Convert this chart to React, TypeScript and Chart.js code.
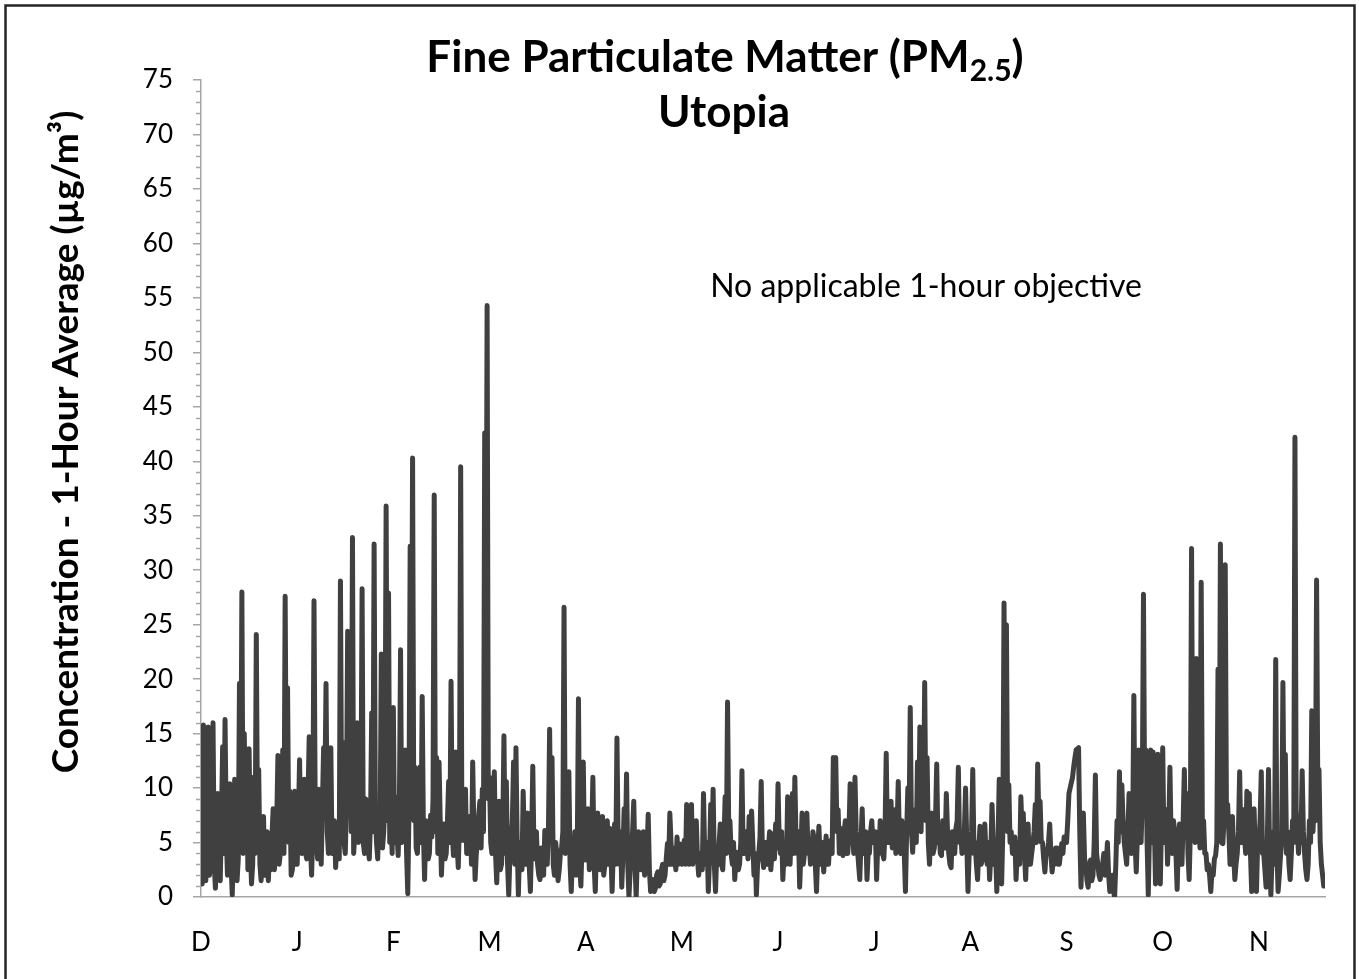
import React, { useEffect, useRef } from 'react';
import { Chart, registerables } from 'chart.js';

Chart.register(...registerables);

// Month tick labels (one label at the start of each month block)
const monthLabels = ['D', 'J', 'F', 'M', 'A', 'M', 'J', 'J', 'A', 'S', 'O', 'N'];

// PM2.5 1-hour concentrations (µg/m³), month by month
const decVals = [
  2.5, 1.2, 15.8, 4, 1.5, 6, 15.6, 2, 3, 5.5, 16, 3, 0.8, 5, 9.5, 2.5, 1.5, 7, 13.8, 4,
  16.3, 6, 2, 8, 10.4, 3, 0.2, 4.5, 10.8, 6, 1.5, 3.5, 19.6, 6, 28, 4, 15, 7, 12.4, 2.5,
  13.6, 5, 1.2, 3, 11, 4, 24.1, 6, 11.7, 3, 1.5, 4.5, 7.4, 2, 3, 6, 1.5, 4, 2.5, 5.5,
  8.1, 2.5, 3.5, 7, 13, 3, 4, 6.5, 13.5, 4, 27.6, 8, 19.2, 5, 9.7, 2, 2.5, 6, 9.7, 3,
];
const janVals = [
  3, 7, 12.6, 5, 4, 8, 10.8, 4, 3.5, 9, 14.7, 5, 2, 6, 27.2, 8, 5, 3.5, 9.9, 6,
  3, 8.5, 13.7, 9, 19.6, 6, 4, 8, 13.7, 4, 5, 7, 2.7, 5, 6, 3.5, 29, 7, 14.2, 5,
  4, 8.5, 24.4, 9, 23, 6, 33, 4, 6, 8, 16, 5, 15, 7, 28.3, 5, 4, 9, 8.8, 4.5,
  3.5, 7, 16.9, 6, 32.4, 8, 5, 3.5, 8, 6, 22.3, 4.5, 6, 9, 35.9, 7, 27.9, 5, 8, 4,
];
const febVals = [
  17.4, 5, 9.2, 6, 3.8, 8, 22.7, 5, 6, 9, 13.5, 4, 0.3, 8, 32.2, 12, 40.3, 7, 11.9, 4.5,
  4, 8, 11.9, 5, 18.4, 6, 1.6, 7, 5.2, 3.5, 4, 7.5, 5.5, 9, 36.9, 6, 12.8, 4, 12.4, 7,
  2, 5, 6.7, 3.5, 4, 7, 10.6, 5, 19.8, 6, 3.8, 8, 13.3, 5, 2.7, 7, 39.5, 6, 5.2, 8.5,
  9.9, 4, 4, 6.5, 7.4, 3, 12.4, 6, 1.6, 4, 5, 7.5, 8.8, 4.5, 9.9, 6, 42.6, 17, 54.3, 9,
];
const marVals = [
  11, 5, 4, 7, 11.5, 4, 1.3, 5, 8.8, 2.5, 3, 6, 14.8, 4, 10.6, 3, 0.2, 4, 5, 7,
  12.4, 3, 13.7, 5, 0.2, 4.5, 5, 2.5, 9.7, 5, 3, 6, 7.7, 3, 0.5, 5, 12, 4, 3.5, 6,
  3, 2, 1.6, 4.5, 3.5, 2, 6.1, 4, 3, 6, 15.4, 5, 12.8, 3, 2, 5, 4, 1.5, 2.5, 4,
  4.5, 6, 26.6, 4, 5, 7, 11.5, 3, 0.5, 4, 3, 6, 2, 4.5, 18.2, 3, 1, 5, 12.4, 4,
];
const aprVals = [
  3.4, 6, 8.1, 2.5, 4, 6, 11, 3, 0.5, 5, 7.7, 3, 2.5, 5.5, 7.4, 2, 3, 5, 7, 3,
  6.3, 4, 0.5, 4.5, 6.7, 3, 14.6, 5, 3, 6, 0.9, 4, 8.1, 5, 11.3, 3, 0, 2.5, 4, 6,
  8.8, 3, 0, 4, 6, 3.5, 2.5, 5, 6, 2, 3, 4, 7.6, 2.5, 0.5, 1.5, 1.6, 0.5, 0.8, 2,
  2.3, 1, 1.2, 2.5, 3, 1.5, 2, 3.5, 4.9, 3, 7.7, 5, 3, 4.5, 3.8, 2.5, 5.5, 3, 4.9, 3.5,
];
const mayVals = [
  3, 4.5, 5.2, 3, 8.5, 4, 3, 6, 8.5, 3, 3.8, 5, 7, 3.5, 2, 4, 4, 2.5, 9.5, 4,
  3, 5, 0.5, 3.5, 8.5, 5, 9.9, 3, 0.5, 4, 3, 5, 6.7, 3, 2.5, 5, 9.2, 4, 17.9, 6,
  7, 4, 3, 5, 1.6, 3.5, 4.1, 2.5, 3, 5, 11.6, 4, 4, 6, 6, 3.5, 7.4, 4, 7.9, 5,
  2, 4, 0.2, 3, 4, 5.5, 10.6, 4, 2.7, 5, 5, 3, 4.5, 6, 2.5, 4, 5.8, 3.5, 6.7, 4.5,
];
const junVals = [
  10.4, 5, 4, 6, 1.6, 4, 5, 3, 9.2, 5, 3, 6, 9.5, 4, 11, 5, 4, 6, 0.9, 4,
  7.7, 3, 4, 6, 7.7, 4, 5, 3, 3.4, 6, 5.4, 3, 0.5, 4, 6.5, 3.5, 3, 5, 2.3, 4,
  5.6, 3, 3, 5, 5.2, 4, 12.8, 7, 12.8, 6, 8, 4, 6.3, 5, 3.8, 6, 7, 4, 4, 6,
  10.4, 5, 6, 4, 11, 6, 4.5, 3, 1.6, 5, 8.1, 4, 4, 6, 1.6, 4, 4, 6, 7, 5,
];
const julVals = [
  5, 6, 1.6, 5, 4, 7, 5.6, 4, 3.5, 6, 13.2, 5, 5, 7, 8.8, 4.5, 6.3, 8, 4, 6,
  10.6, 5, 4, 7, 6, 4, 0.5, 6, 10, 7, 17.4, 6, 4.1, 7, 8, 5, 12.4, 7, 15.6, 6,
  12.4, 8, 19.7, 7, 12.8, 5, 3, 6, 7.7, 4, 4.5, 7, 12.2, 5, 6, 4, 3.8, 7, 5, 4.5,
  9.5, 6, 4, 3, 2.7, 6, 5, 4, 6.3, 7, 11.9, 5, 6, 4, 4.1, 6, 10, 5, 0.5, 4,
];
const augVals = [
  4, 6, 11.7, 4, 5, 3, 1.6, 4.5, 6.5, 3, 3.5, 5, 6.7, 4, 3, 5, 1.6, 4, 8.5, 5,
  3, 4, 0.5, 5, 10.8, 4, 1.2, 6, 27, 10, 25, 6, 10.3, 5, 6, 4, 4, 5.5, 1.6, 4,
  5, 3, 9.2, 6, 7.7, 4, 1.6, 5, 6.7, 3, 3, 4, 4.9, 6, 8.5, 5, 12.2, 7, 8.8, 5,
  5, 3.5, 2.3, 4, 4, 5, 6.7, 4, 2.3, 3.5, 3, 4.5, 4.5, 3, 3, 4, 4.9, 4, 5.5, 5,
];
const sepVals = [
  5, 7, 9.5, 10, 10.5, 11, 12, 12.8, 13.5, 13.6, 13.7, 6, 0.9, 4, 7.7, 3.5, 3, 1.5, 0.9, 2.5,
  3.4, 1.5, 2, 5, 11.2, 4, 3, 2, 1.6, 2.5, 3, 4, 2, 3, 5, 2, 0.5, 1.5, 2, 0.5,
  0, 3, 7, 5, 11.5, 6, 10.3, 7, 5, 4, 3, 6, 9.5, 5, 4, 6, 18.5, 5, 2.3, 6,
  13.5, 7, 5, 9, 27.8, 8, 13.5, 5, 0.2, 6, 13.5, 5, 13.3, 7, 1.2, 5, 13.1, 6, 1.2, 7,
];
const octVals = [
  13.7, 5, 6.3, 8, 3, 6, 11.9, 5, 4, 7, 5.9, 4, 0.7, 5, 6.7, 4, 3, 7, 11.7, 6,
  9.5, 4, 1.6, 6, 32, 8, 7.7, 5, 21.9, 6, 7, 4.5, 28.9, 6, 7, 4, 4, 2.5, 3, 2,
  0.5, 2.5, 2, 3.5, 3.8, 5, 20.9, 6, 32.4, 5, 4.9, 7, 30.5, 8, 8.5, 6, 3, 5, 7.4, 4,
  1.6, 3, 4, 6, 11.5, 5, 7, 8, 5.6, 4, 9.7, 6, 9.5, 4, 0.5, 3, 8.1, 4, 0.5, 5,
];
const novVals = [
  5, 7, 11.5, 4, 4, 2.5, 0.9, 5, 11.7, 3, 0.2, 4, 6, 3, 21.8, 4, 0.5, 2, 3.8, 5,
  19.7, 6, 13.1, 4, 6, 3, 1.6, 4, 7, 5, 42.2, 8, 6, 4, 7, 5, 11.6, 6, 4, 2.5,
  1.6, 3, 7, 5, 17.1, 6, 8.8, 7, 29.1, 10, 11.7, 5, 3, 2, 1, 1.5,
];

const monthSeries = [decVals, janVals, febVals, marVals, aprVals, mayVals, junVals, julVals, augVals, sepVals, octVals, novVals];

// Y-axis range
const yMin = 0;
const yMax = 75;
const yMajorStep = 5;
const yMinorStep = 1;

const titleMain = 'Fine Particulate Matter (PM';
const titleSub = '2.5';
const titleClose = ')';
const titleLine2 = 'Utopia';
const yAxisTitle = 'Concentration - 1-Hour Average (µg/m³)';
const noteText = 'No applicable 1-hour objective';

const allVals: number[] = monthSeries.flat();
const monthStarts: number[] = [];
{
  let acc = 0;
  for (const m of monthSeries) {
    monthStarts.push(acc);
    acc += m.length;
  }
}

const FONT = 'Lato, "Open Sans", sans-serif';
const AXIS_GRAY = '#a6a6a6';

const decorPlugin = {
  id: 'decor',
  afterDraw(chart: any) {
    const ctx: CanvasRenderingContext2D = chart.ctx;
    const yScale = chart.scales.y;
    const area = chart.chartArea;
    ctx.save();

    // minor ticks on the y axis
    ctx.strokeStyle = AXIS_GRAY;
    ctx.lineWidth = 1.5;
    for (let v = yMin; v <= yMax; v += yMinorStep) {
      if (v % yMajorStep === 0) continue;
      const py = Math.round(yScale.getPixelForValue(v)) + 0.5;
      ctx.beginPath();
      ctx.moveTo(area.left - 5, py);
      ctx.lineTo(area.left, py);
      ctx.stroke();
    }

    ctx.fillStyle = '#000';
    // title line 1 with subscript
    const mainFont = `bold 44px ${FONT}`;
    const subFont = `bold 30px ${FONT}`;
    ctx.font = mainFont;
    const w1 = ctx.measureText(titleMain).width;
    const w3 = ctx.measureText(titleClose).width;
    ctx.font = subFont;
    const w2 = ctx.measureText(titleSub).width;
    const cx = 725;
    let x = cx - (w1 + w2 + w3) / 2;
    ctx.textBaseline = 'alphabetic';
    ctx.textAlign = 'left';
    ctx.font = mainFont;
    ctx.fillText(titleMain, x, 72);
    x += w1;
    ctx.font = subFont;
    ctx.fillText(titleSub, x, 81);
    x += w2;
    ctx.font = mainFont;
    ctx.fillText(titleClose, x, 72);

    // title line 2
    ctx.textAlign = 'center';
    ctx.fillText(titleLine2, 724, 127);

    // note
    ctx.font = `32px ${FONT}`;
    ctx.textBaseline = 'middle';
    ctx.fillText(noteText, 926, 287);

    // y axis title
    ctx.save();
    ctx.translate(66, 442);
    ctx.rotate(-Math.PI / 2);
    ctx.font = `bold 37px ${FONT}`;
    ctx.textAlign = 'center';
    ctx.textBaseline = 'middle';
    ctx.fillText(yAxisTitle, 0, 0);
    ctx.restore();

    // outer frame
    ctx.strokeStyle = '#262626';
    ctx.lineWidth = 2.5;
    ctx.strokeRect(5.5, 5.5, 1349, 1000);
    ctx.restore();
  },
};

export default function App() {
  const canvasRef = useRef<HTMLCanvasElement | null>(null);

  useEffect(() => {
    const canvas = canvasRef.current;
    if (!canvas) return;
    const chart = new Chart(canvas, {
      type: 'line',
      data: {
        datasets: [
          {
            data: allVals.map((v, i) => ({ x: i, y: v })),
            borderColor: '#404040',
            borderWidth: 5,
            pointRadius: 0,
            tension: 0,
            fill: false,
            borderJoinStyle: 'round',
            borderCapStyle: 'round',
          } as any,
        ],
      },
      options: {
        responsive: false,
        animation: false,
        layout: { padding: { left: 0, top: 80, right: 34, bottom: 0 } },
        plugins: {
          legend: { display: false },
          tooltip: { enabled: false },
          title: { display: false },
        },
        scales: {
          x: {
            type: 'linear',
            min: 0,
            max: allVals.length - 1,
            afterBuildTicks: (s: any) => {
              s.ticks = monthStarts.map((v) => ({ value: v }));
            },
            afterFit: (s: any) => {
              s.height = 82;
            },
            ticks: {
              autoSkip: false,
              maxRotation: 0,
              padding: 30,
              color: '#000',
              font: { family: FONT, size: 26 },
              callback: (v: any) => {
                const idx = monthStarts.indexOf(Number(v));
                return idx >= 0 ? monthLabels[idx] : '';
              },
            },
            grid: { display: false, drawTicks: false },
            border: { display: true, color: AXIS_GRAY, width: 1.5 },
          },
          y: {
            min: yMin,
            max: yMax,
            afterFit: (s: any) => {
              s.width = 201;
            },
            ticks: {
              stepSize: yMajorStep,
              padding: 20,
              color: '#000',
              font: { family: FONT, size: 26 },
            },
            grid: { drawOnChartArea: false, drawTicks: true, tickLength: 8, color: AXIS_GRAY, lineWidth: 1.5 },
            border: { display: true, color: AXIS_GRAY, width: 1.5 },
          },
        },
      } as any,
      plugins: [decorPlugin],
    });
    const fonts: any = (document as any).fonts;
    if (fonts && fonts.load) {
      Promise.all([fonts.load(`bold 44px Lato`), fonts.load(`26px Lato`)])
        .then(() => chart.update())
        .catch(() => {});
    }
    return () => {
      chart.destroy();
    };
  }, []);

  return (
    <div style={{ position: 'fixed', left: 0, top: 0, width: 1359, height: 979, background: '#fff' }}>
      <canvas ref={canvasRef} width={1359} height={979} style={{ display: 'block' }} />
    </div>
  );
}
